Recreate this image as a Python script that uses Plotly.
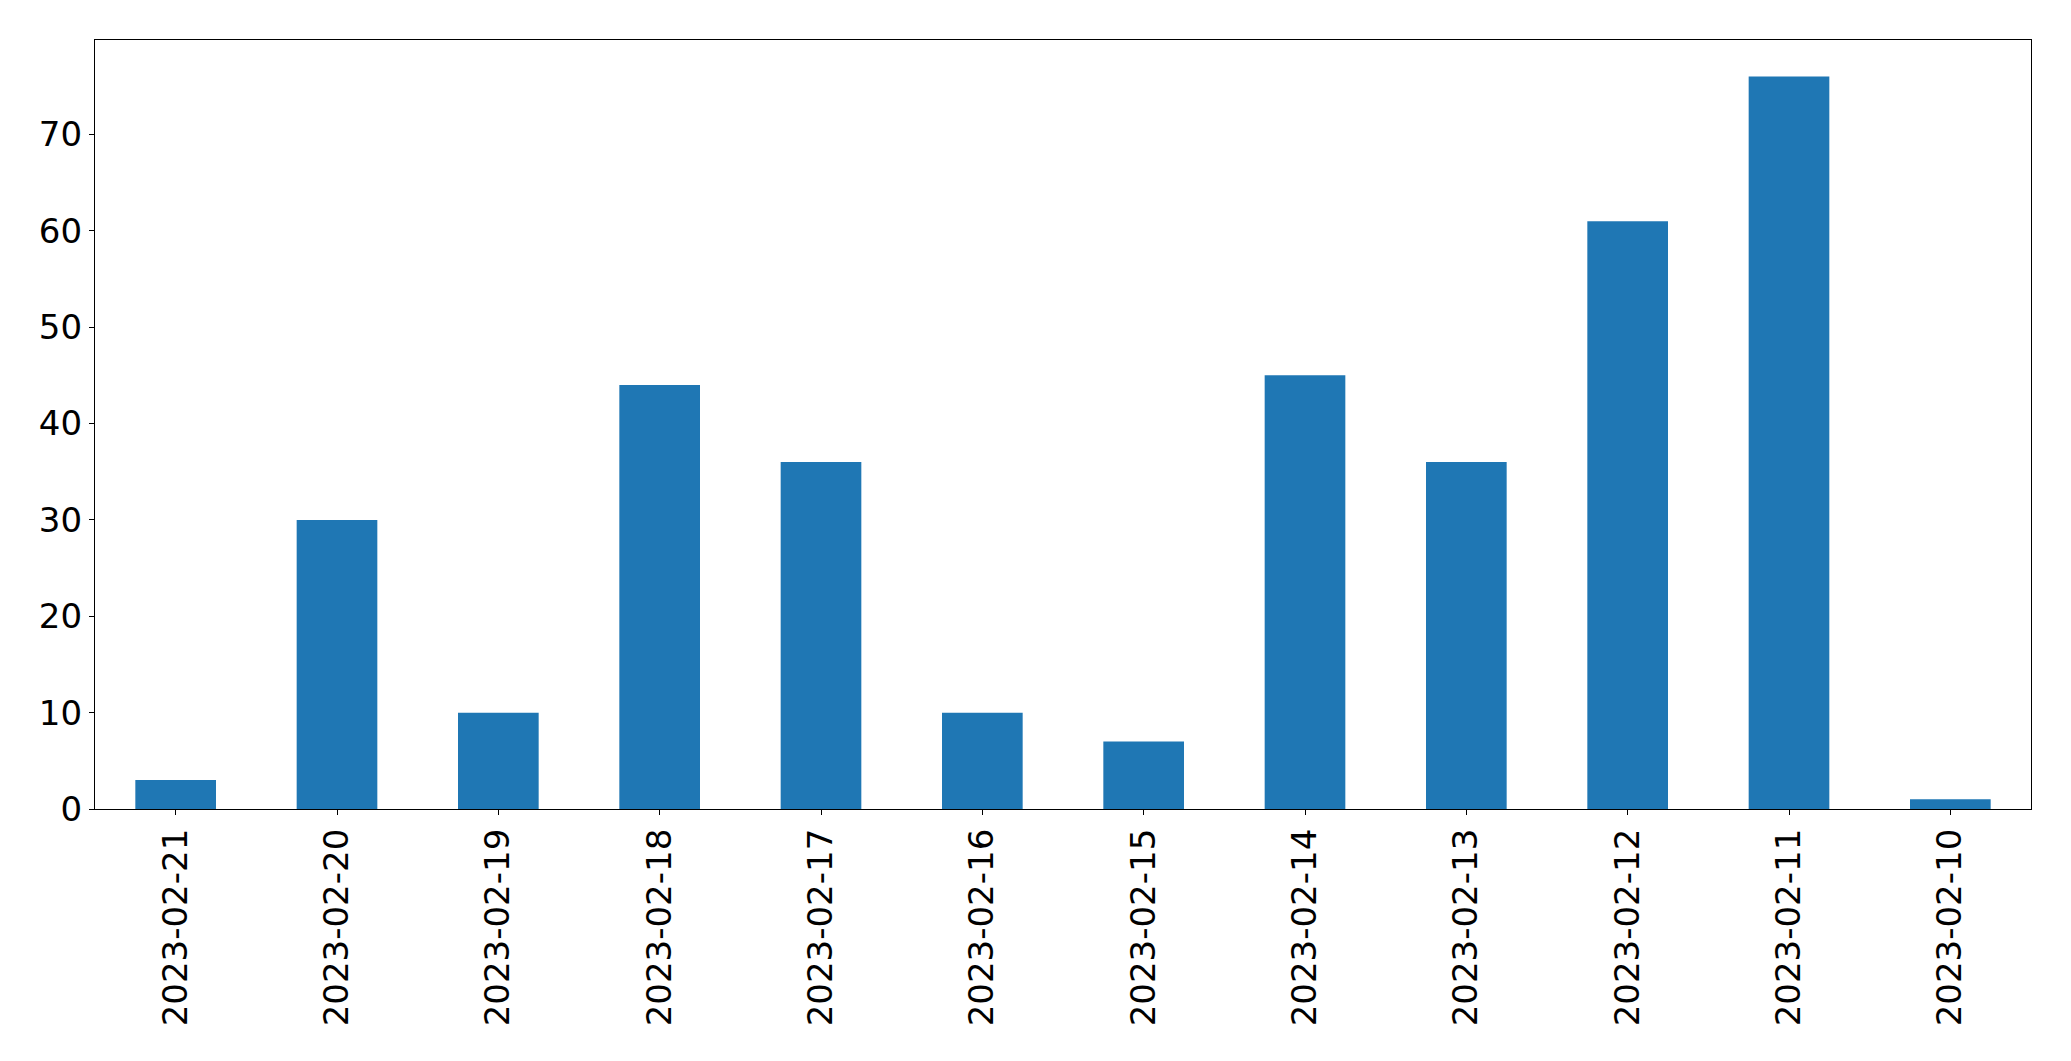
import plotly.graph_objects as go

dates = ["2023-02-21", "2023-02-20", "2023-02-19", "2023-02-18", "2023-02-17", "2023-02-16",
         "2023-02-15", "2023-02-14", "2023-02-13", "2023-02-12", "2023-02-11", "2023-02-10"]
counts = [3, 30, 10, 44, 36, 10, 7, 45, 36, 61, 76, 1]
y_ticks = [0, 10, 20, 30, 40, 50, 60, 70]

fig = go.Figure(go.Bar(x=dates, y=counts, marker=dict(color="#1f77b4", line=dict(width=0)), width=0.5))

font = dict(family="DejaVu Sans", size=34, color="black")
fig.update_layout(
    width=2055, height=1045,
    margin=dict(l=87, r=32, t=32, b=244),
    paper_bgcolor="white", plot_bgcolor="white",
    showlegend=False,
    font=font,
)
fig.update_xaxes(
    type="category", range=[-0.5, len(dates) - 0.5], automargin=False,
    tickangle=-90, ticks="outside", ticklen=5, tickwidth=1.3, tickcolor="black",
    showline=True, linecolor="black", linewidth=1.3, mirror=True,
    showgrid=False, tickfont=font,
)
fig.update_yaxes(
    range=[0, max(counts) * 1.05], tickvals=y_ticks, automargin=False,
    ticks="outside", ticklen=5, tickwidth=1.3, tickcolor="black",
    showline=True, linecolor="black", linewidth=1.3, mirror=True,
    showgrid=False, zeroline=False, tickfont=font,
)
fig.write_html("out.html")
